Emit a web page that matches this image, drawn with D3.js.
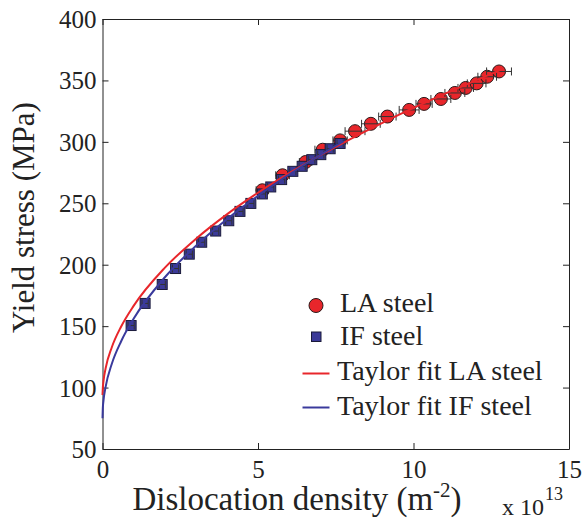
<!DOCTYPE html>
<html>
<head>
<meta charset="utf-8">
<script src="https://cdn.jsdelivr.net/npm/d3@7"></script>
<style>
  body { margin: 0; background: #fff; }
</style>
</head>
<body>
<svg id="chart"></svg>
<script>
// LA steel measurements (dislocation density in 1e13 m^-2, yield stress MPa)
var laRho    = [5.14, 5.79, 6.53, 7.08, 7.64, 8.12, 8.63, 9.16, 9.86, 10.34, 10.88, 11.33, 11.68, 12.03, 12.37, 12.75]
var laStress = [260.6, 272.8, 283.6, 293.6, 301.2, 308.7, 314.7, 320.6, 326.0, 330.9, 334.9, 339.8, 343.9, 347.6, 353.0, 357.3]
var laErr    = [0.2, 0.22, 0.2, 0.25, 0.23, 0.32, 0.3, 0.28, 0.32, 0.26, 0.32, 0.32, 0.25, 0.3, 0.3, 0.4]

// IF steel measurements
var ifRho    = [0.92, 1.37, 1.92, 2.35, 2.79, 3.19, 3.64, 4.06, 4.42, 4.77, 5.14, 5.41, 5.76, 6.12, 6.42, 6.73, 7.02, 7.32, 7.64]
var ifStress = [150.5, 168.5, 183.9, 196.9, 208.6, 218.3, 227.4, 235.8, 243.4, 249.9, 257.6, 263.3, 269.3, 276.0, 280.1, 285.5, 289.6, 294.4, 298.7]
var ifErr    = [0.1, 0.1, 0.1, 0.1, 0.1, 0.1, 0.1, 0.1, 0.1, 0.1, 0.1, 0.1, 0.1, 0.1, 0.1, 0.1, 0.1, 0.1, 0.1]

// Taylor fit curves
var fitLaRho    = [0, 0.01, 0.03, 0.1, 0.3, 0.6, 1, 2, 3, 4, 5, 6, 7, 8, 9, 10, 11, 12, 12.9]
var fitLaStress = [94, 99.5, 104.9, 115.6, 132.8, 149.7, 166.5, 197.4, 221, 241, 258.6, 274.5, 289.1, 302.7, 315.5, 327.6, 339.1, 350.1, 359.6]
var fitIfRho    = [0, 0.01, 0.03, 0.1, 0.3, 0.6, 1, 2, 3, 4, 5, 6, 7, 7.75]
var fitIfStress = [75, 83.1, 89.0, 100.6, 119.4, 137.7, 156, 189.6, 215.3, 237, 256.1, 273.4, 289.3, 300.5]

var xTicks = [0, 5, 10, 15]
var yTicks = [50, 100, 150, 200, 250, 300, 350, 400]

var legendLabels = ["LA steel", "IF steel", "Taylor fit LA steel", "Taylor fit IF steel"]

var screen = {width:582, height:520}
var margins = {top:19, right:13, left:102.5, bottom:71}

var serif = "'Liberation Serif', 'Times New Roman', serif"
var red = "#e8262b"
var blue = "#3b3a98"

var width = screen.width - margins.left - margins.right
var height = screen.height - margins.top - margins.bottom

var svg = d3.select("#chart")
    .attr("width", screen.width)
    .attr("height", screen.height)

var xScale = d3.scaleLinear().domain([0, 15]).range([0, width])
var yScale = d3.scaleLinear().domain([50, 400]).range([height, 0])

var graph = svg.append("g")
    .attr("transform", "translate(" + margins.left + "," + margins.top + ")")

// axes, ticks inside on all four sides
var xAxis = d3.axisBottom(xScale).tickValues(xTicks).tickSize(-6).tickSizeOuter(0).tickPadding(6)
var yAxis = d3.axisLeft(yScale).tickValues(yTicks).tickSize(-6).tickSizeOuter(0).tickPadding(6)

var gx = graph.append("g").attr("transform", "translate(0," + height + ")").call(xAxis)
var gy = graph.append("g").call(yAxis)
graph.append("g").call(d3.axisTop(xScale).tickValues(xTicks).tickSize(-6).tickSizeOuter(0).tickFormat(""))
graph.append("g").attr("transform", "translate(" + width + ",0)")
    .call(d3.axisRight(yScale).tickValues(yTicks).tickSize(-6).tickSizeOuter(0).tickFormat(""))

graph.selectAll(".domain").attr("stroke", "#222")
graph.selectAll(".tick line").attr("stroke", "#222")
graph.selectAll(".tick text")
    .style("font-size", "25px")
    .style("font-family", serif)
    .attr("fill", "#222")
gx.selectAll(".tick text").attr("dy", "0.9em")
gy.selectAll(".tick text").attr("dy", "0.34em")

// data as point objects
var laData = laRho.map(function(r, i){ return {x:r, y:laStress[i], e:laErr[i]} })
var ifData = ifRho.map(function(r, i){ return {x:r, y:ifStress[i], e:ifErr[i]} })

var drawErrors = function(data, cls)
{
    var g = graph.append("g").attr("class", cls)
        .attr("stroke", "#333").attr("stroke-width", 1).attr("fill", "none")
    g.selectAll("path")
        .data(data)
        .enter()
        .append("path")
        .attr("d", function(d){
            var x0 = xScale(d.x - d.e), x1 = xScale(d.x + d.e), y = yScale(d.y)
            return "M" + x0 + "," + y + "H" + x1 +
                   "M" + x0 + "," + (y - 4) + "V" + (y + 4) +
                   "M" + x1 + "," + (y - 4) + "V" + (y + 4)
        })
}

// LA steel circles
graph.append("g")
    .selectAll("circle")
    .data(laData)
    .enter()
    .append("circle")
    .attr("cx", function(d){ return xScale(d.x) })
    .attr("cy", function(d){ return yScale(d.y) })
    .attr("r", 6.5)
    .attr("fill", red)
    .attr("stroke", "#2a1a1a")
    .attr("stroke-width", 1)
drawErrors(laData, "laErr")

// IF steel squares
graph.append("g")
    .selectAll("rect")
    .data(ifData)
    .enter()
    .append("rect")
    .attr("x", function(d){ return xScale(d.x) - 5 })
    .attr("y", function(d){ return yScale(d.y) - 5 })
    .attr("width", 10)
    .attr("height", 10)
    .attr("fill", blue)
    .attr("stroke", "#1a1a3a")
    .attr("stroke-width", 1)
drawErrors(ifData, "ifErr")

// fit lines
var line = d3.line()
    .x(function(d){ return xScale(d[0]) })
    .y(function(d){ return yScale(d[1]) })
    .curve(d3.curveMonotoneX)

graph.append("path")
    .datum(fitLaRho.map(function(r, i){ return [r, fitLaStress[i]] }))
    .attr("d", line)
    .attr("fill", "none")
    .attr("stroke", red)
    .attr("stroke-width", 2)

graph.append("path")
    .datum(fitIfRho.map(function(r, i){ return [r, fitIfStress[i]] }))
    .attr("d", line)
    .attr("fill", "none")
    .attr("stroke", "#3a3a9c")
    .attr("stroke-width", 2)

// legend
var legend = svg.append("g")
legend.append("circle").attr("cx", 316).attr("cy", 305.5).attr("r", 7)
    .attr("fill", red).attr("stroke", "#2a1a1a")
legend.append("rect").attr("x", 311.5).attr("y", 332).attr("width", 9.5).attr("height", 9.5)
    .attr("fill", blue).attr("stroke", "#1a1a3a")
legend.append("line").attr("x1", 302.5).attr("x2", 329.5).attr("y1", 373.5).attr("y2", 373.5)
    .attr("stroke", red).attr("stroke-width", 2)
legend.append("line").attr("x1", 302.5).attr("x2", 329.5).attr("y1", 407.5).attr("y2", 407.5)
    .attr("stroke", "#3a3a9c").attr("stroke-width", 2)

var legendX = [340, 340, 337, 337]
var legendY = [311.5, 345, 380, 415]
legend.selectAll("text")
    .data(legendLabels)
    .enter()
    .append("text")
    .attr("x", function(d, i){ return legendX[i] })
    .attr("y", function(d, i){ return legendY[i] })
    .style("font-family", serif)
    .style("font-size", "28px")
    .attr("fill", "#222")
    .text(function(d){ return d })

// axis titles
var xt = svg.append("text")
    .attr("x", 297)
    .attr("y", 510)
    .attr("text-anchor", "middle")
    .style("font-family", serif)
    .style("font-size", "33px")
    .attr("fill", "#222")
xt.append("tspan").text("Dislocation density (m")
xt.append("tspan").attr("dy", -13).style("font-size", "21px").text("-2")
xt.append("tspan").attr("dy", 13).text(")")

svg.append("text")
    .attr("transform", "translate(34,217.5) rotate(-90)")
    .attr("text-anchor", "middle")
    .style("font-family", serif)
    .style("font-size", "31px")
    .attr("fill", "#222")
    .text("Yield stress (MPa)")

var ex = svg.append("text")
    .attr("x", 502)
    .attr("y", 515)
    .style("font-family", serif)
    .style("font-size", "24px")
    .attr("fill", "#222")
ex.append("tspan").text("x 10")
ex.append("tspan").attr("dy", -15).attr("dx", 1).style("font-size", "18px").text("13")
</script>
</body>
</html>
